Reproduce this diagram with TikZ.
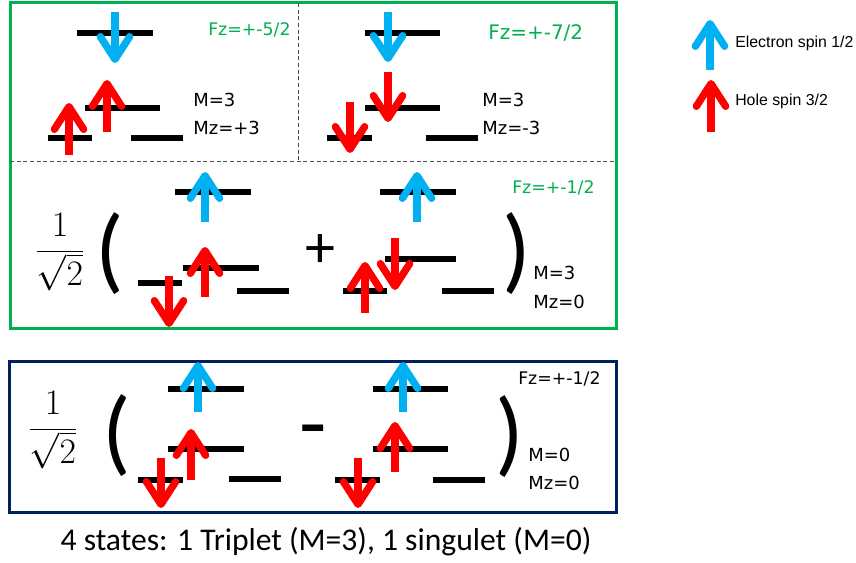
\documentclass[tikz,border=0pt]{standalone}
\usepackage{fontspec}
\usepackage{graphicx}
\usetikzlibrary{arrows.meta}
\newfontfamily\lblfont{DejaVu Sans}
\newfontfamily\legfont{Liberation Sans}
\newfontfamily\calfont{Carlito}
\definecolor{eblue}{HTML}{00B0F0}
\definecolor{hred}{HTML}{FF0000}
\definecolor{fzgreen}{HTML}{00B050}
\definecolor{boxnavy}{HTML}{002060}
\tikzset{
  level/.style={line width=4pt, black},
  spin/.style={line width=5.5pt, -{Straight Barb[length=17pt,width=22pt,round]}},
  electron/.style={spin, eblue},
  hole/.style={spin, hred},
  lbl/.style={anchor=base west, inner sep=0pt, font=\lblfont\fontsize{13.5}{16}\selectfont},
  fzlbl/.style={anchor=base west, inner sep=0pt, font=\lblfont\fontsize{13}{16}\selectfont},
  leglbl/.style={anchor=base west, inner sep=0pt, font=\legfont\fontsize{11.9}{14}\selectfont},
  bigparen/.style={inner sep=0pt},
}
\begin{document}
\begin{tikzpicture}[x=0.75pt, y=-0.75pt]
\useasboundingbox (0,0) rectangle (856,563);
% frames
\draw[fzgreen, line width=2.25pt] (10,3) rectangle (616,328);
\draw[boxnavy, line width=2.25pt] (9,361) rectangle (616,512);
\draw[gray!60!black, line width=0.75pt, dash pattern=on 3pt off 2pt] (10,162) -- (616,162);
\draw[gray!60!black, line width=0.75pt, dash pattern=on 3pt off 2pt] (298,3) -- (298,162);
% energy levels
\foreach \a/\b/\y in {77/153/33, 85/160/108, 48/92/138, 131/183/138,
                      365/440/33, 365/440/108, 327/372/138, 426/478/138,
                      175/251/192, 183/259/268, 138/182/283, 237/289/291,
                      380/456/192, 385/456/259, 343/387/291, 442/494/291,
                      168/244/389, 168/244/449, 138/183/480, 229/281/479,
                      373/448/389, 373/448/449, 335/380/480, 433/485/480}
  \draw[level] (\a,\y) -- (\b,\y);
% electron spins
\foreach \x/\s/\t in {115/12/63, 388/12/62, 205/222/172, 417/222/172, 198/412/362, 403/412/362}
  \draw[electron] (\x,\s) -- (\x,\t);
% hole spins
\foreach \x/\s/\t in {69/155/103, 107/132/80, 388/72/122, 350/102/153,
                      205/297/247, 169/276/327, 395/238/290, 365/313/262,
                      191/480/429, 161/458/508, 395/472/422, 358/458/508}
  \draw[hole] (\x,\s) -- (\x,\t);
% labels, top row
\node[fzlbl, fzgreen] (fzfive) at (208,36) {Fz=+-5/2};
\node[lbl] (mtl) at (193,106.5) {M=3};
\node[lbl] (mztl) at (193,134.5) {Mz=+3};
\node[fzlbl, fzgreen, font=\lblfont\fontsize{15}{18}\selectfont] (fzseven) at (488,40) {Fz=+-7/2};
\node[lbl] (mtr) at (482,106.5) {M=3};
\node[lbl] (mztr) at (482,134.5) {Mz=-3};
% triplet Mz=0
\node (fracmid) at (60,252) {\scalebox{1.08}{\fontsize{25}{30}\selectfont$\displaystyle\frac{1}{\sqrt{2}}$}};
\node[bigparen] (lparmid) at (110,253.5) {\resizebox*{!}{61.5pt}{\calfont (}};
\node[bigparen] (rparmid) at (517,254) {\resizebox*{!}{61.5pt}{\calfont )}};
\node[anchor=base, inner sep=0pt, font=\calfont\fontsize{45}{50}\selectfont] (plus) at (320,267) {+};
\node[fzlbl, fzgreen] (fzmid) at (512,194) {Fz=+-1/2};
\node[lbl] (mmid) at (533,279.5) {M=3};
\node[lbl] (mzmid) at (533,308.5) {Mz=0};
% singulet
\node (fracbot) at (53,430) {\scalebox{1.08}{\fontsize{25}{30}\selectfont$\displaystyle\frac{1}{\sqrt{2}}$}};
\node[bigparen] (lparbot) at (117,436) {\resizebox*{!}{61.5pt}{\calfont (}};
\node[bigparen] (rparbot) at (510,437) {\resizebox*{!}{61.5pt}{\calfont )}};
\node[anchor=base, inner sep=0pt, font=\calfont\fontsize{67}{70}\selectfont] (minus) at (313,453) {-};
\node[fzlbl] (fzbot) at (518,384) {Fz=+-1/2};
\node[lbl] (mbot) at (528,461.5) {M=0};
\node[lbl] (mzbot) at (528,489.5) {Mz=0};
% legend
\draw[electron] (710,70) -- (710,20);
\draw[hole] (711,132) -- (711,80);
\node[leglbl] (legelec) at (735,47.7) {Electron spin 1/2};
\node[leglbl] (leghole) at (735,105.7) {Hole spin 3/2};
% summary
\node[anchor=base, inner sep=0pt, font=\calfont\fontsize{23.7}{28}\selectfont] (summary) at (326,550) {4 states: 1 Triplet (M=3), 1 singulet (M=0)};
\end{tikzpicture}
\end{document}
